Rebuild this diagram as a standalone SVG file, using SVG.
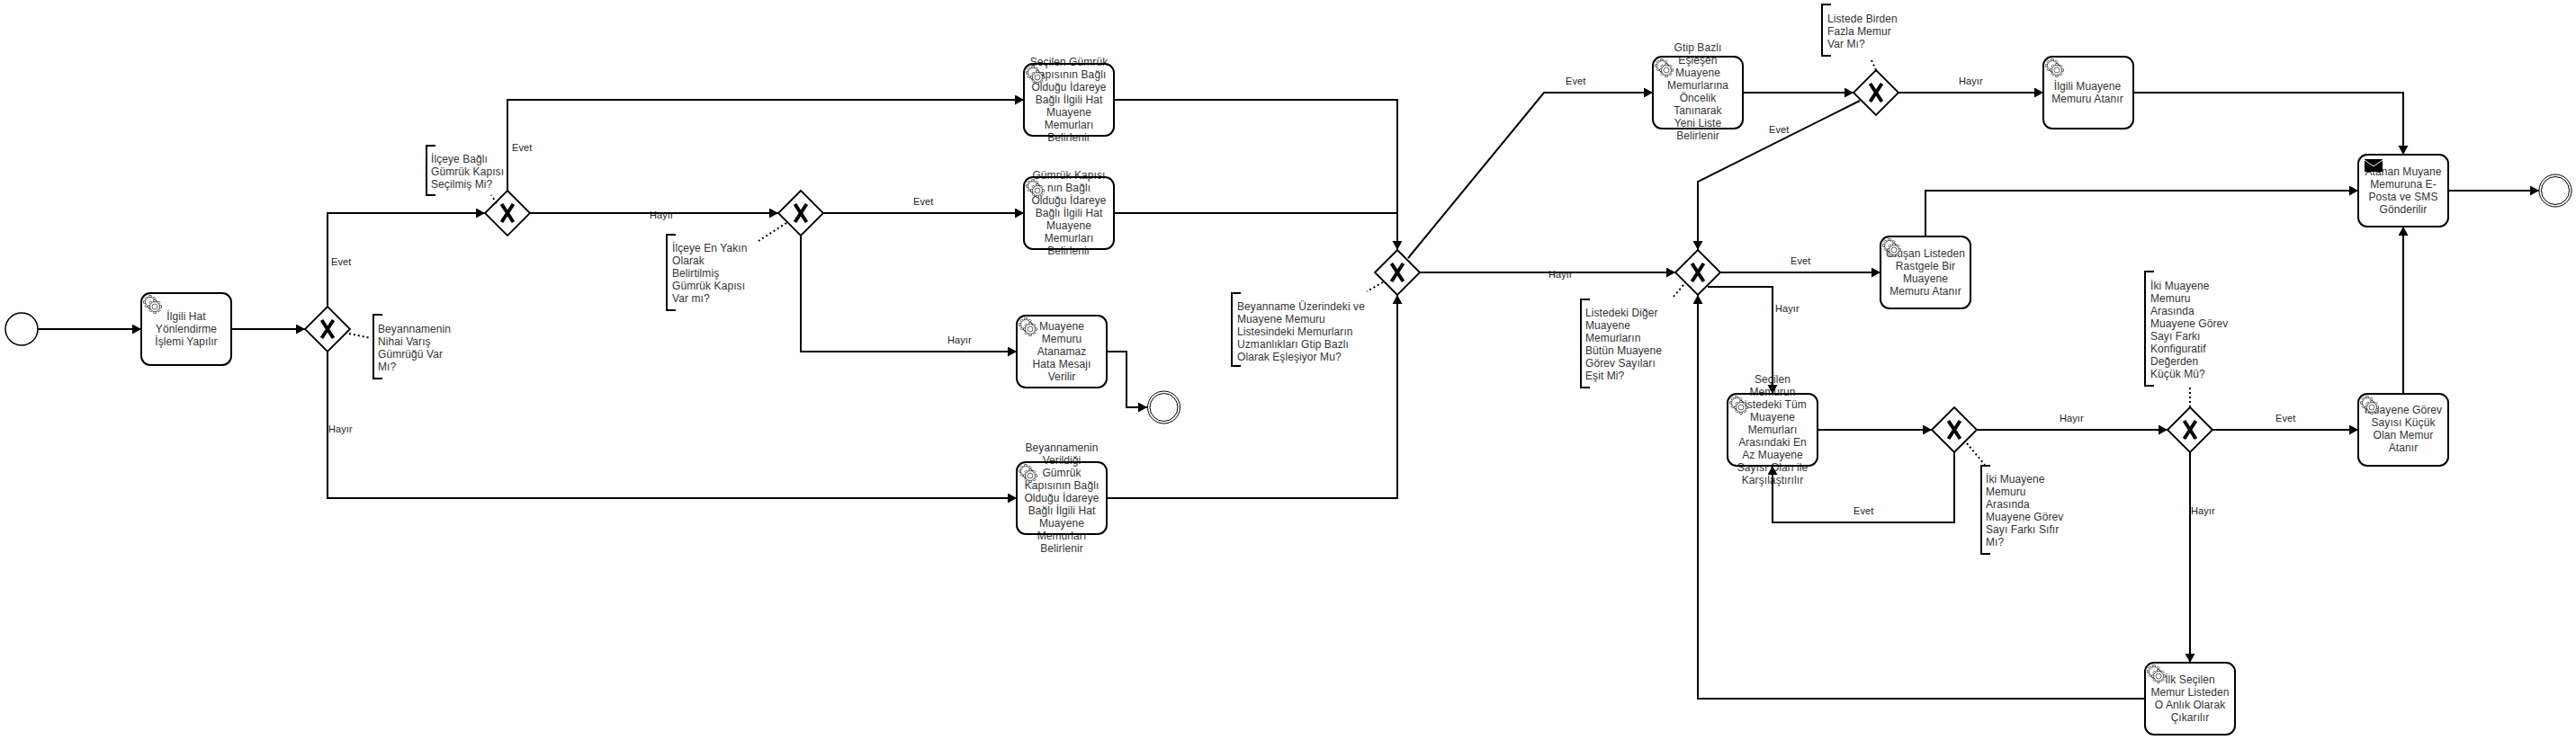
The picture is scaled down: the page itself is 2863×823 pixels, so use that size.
<svg xmlns="http://www.w3.org/2000/svg" xmlns:xlink="http://www.w3.org/1999/xlink" width="2863" height="823" viewBox="0 0 2863 823">
<style>
text{font-family:"Liberation Sans",Arial,sans-serif;font-size:12px;fill:#333;letter-spacing:.08px}
.t{text-anchor:middle}
.l{font-size:11px;fill:#222}
.box{fill:none;stroke:#000;stroke-width:2}
.gw{fill:#fff;stroke:#000;stroke-width:1.8}
.x{fill:none;stroke:#000;stroke-width:4}
.c{fill:none;stroke:#000;stroke-width:2}
.a{marker-end:url(#arrow)}
.d{fill:none;stroke:#000;stroke-width:2;stroke-dasharray:2 3}
.br{fill:none;stroke:#000;stroke-width:2}
.ev{fill:#fff;stroke:#000;stroke-width:1.5}
.ee{fill:#fff;stroke:#000;stroke-width:1}
.g{fill:#fff;stroke:#000;stroke-width:.6}
</style>
<defs>
<marker id="arrow" markerUnits="userSpaceOnUse" markerWidth="11" markerHeight="12" refX="10" refY="5.5" orient="auto"><path d="M0,0L10,5.5L0,11z" fill="#000"/></marker>
<g id="gear1">
<rect class="g" x="-7.3" y="-1.2" width="14.6" height="2.4"/>
<rect class="g" x="-7.3" y="-1.2" width="14.6" height="2.4" transform="rotate(45)"/>
<rect class="g" x="-7.3" y="-1.2" width="14.6" height="2.4" transform="rotate(90)"/>
<rect class="g" x="-7.3" y="-1.2" width="14.6" height="2.4" transform="rotate(135)"/>
<circle class="g" r="5.5"/>
</g>
<g id="gear"><use xlink:href="#gear1" href="#gear1" x="10" y="10"/><use xlink:href="#gear1" href="#gear1" x="15" y="15"/><circle class="g" cx="15" cy="15" r="3"/></g>
<g id="gx"><path class="gw" d="M0,-25L25,0L0,25L-25,0z"/><path class="x" d="M-6.5,-10L6.5,10M6.5,-10L-6.5,10"/></g>
</defs>
<g id="start"><circle class="ev" cx="24" cy="366" r="18"/></g>
<g id="task1"><text class="t"><tspan x="207" y="356">İlgili Hat</tspan><tspan x="207" y="370">Yönlendirme</tspan><tspan x="207" y="384">İşlemi Yapılır</tspan></text><rect class="box" x="157" y="326" width="100" height="80" rx="10"/><use xlink:href="#gear" href="#gear" x="157" y="326"/></g>
<g id="gw1"><use xlink:href="#gx" href="#gx" x="364" y="366"/></g>
<g id="note1"><path class="br" d="M425,350H415V421H425"/><text><tspan x="420" y="370">Beyannamenin</tspan><tspan x="420" y="384">Nihai Varış</tspan><tspan x="420" y="398">Gümrüğü Var</tspan><tspan x="420" y="412">Mı?</tspan></text></g>
<g id="gw2"><use xlink:href="#gx" href="#gx" x="564" y="237"/></g>
<g id="note2"><path class="br" d="M484,162H474V217H484"/><text><tspan x="479" y="181">İlçeye Bağlı</tspan><tspan x="479" y="195">Gümrük Kapısı</tspan><tspan x="479" y="209">Seçilmiş Mi?</tspan></text></g>
<g id="taskA"><text class="t"><tspan x="1188" y="73">Seçilen Gümrük</tspan><tspan x="1188" y="87">Kapısının Bağlı</tspan><tspan x="1188" y="101">Olduğu İdareye</tspan><tspan x="1188" y="115">Bağlı İlgili Hat</tspan><tspan x="1188" y="129">Muayene</tspan><tspan x="1188" y="143">Memurları</tspan><tspan x="1188" y="157">Belirlenir</tspan></text><rect class="box" x="1138" y="71" width="100" height="80" rx="10"/><use xlink:href="#gear" href="#gear" x="1138" y="71"/></g>
<g id="gw3"><use xlink:href="#gx" href="#gx" x="890" y="237"/></g>
<g id="note3"><path class="br" d="M751,261H741V345H751"/><text><tspan x="747" y="280">İlçeye En Yakın</tspan><tspan x="747" y="294">Olarak</tspan><tspan x="747" y="308">Belirtilmiş</tspan><tspan x="747" y="322">Gümrük Kapısı</tspan><tspan x="747" y="336">Var mı?</tspan></text></g>
<g id="taskB"><text class="t"><tspan x="1188" y="199">Gümrük Kapısı</tspan><tspan x="1188" y="213">nın Bağlı</tspan><tspan x="1188" y="227">Olduğu İdareye</tspan><tspan x="1188" y="241">Bağlı İlgili Hat</tspan><tspan x="1188" y="255">Muayene</tspan><tspan x="1188" y="269">Memurları</tspan><tspan x="1188" y="283">Belirlenir</tspan></text><rect class="box" x="1138" y="197" width="100" height="80" rx="10"/><use xlink:href="#gear" href="#gear" x="1138" y="197"/></g>
<g id="taskC"><text class="t"><tspan x="1180" y="367">Muayene</tspan><tspan x="1180" y="381">Memuru</tspan><tspan x="1180" y="395">Atanamaz</tspan><tspan x="1180" y="409">Hata Mesajı</tspan><tspan x="1180" y="423">Verilir</tspan></text><rect class="box" x="1130" y="351" width="100" height="80" rx="10"/><use xlink:href="#gear" href="#gear" x="1130" y="351"/></g>
<g id="end1"><circle class="ee" cx="1293.5" cy="453" r="18"/><circle class="ee" cx="1293.5" cy="453" r="15.5"/></g>
<g id="taskD"><text class="t"><tspan x="1180" y="502">Beyannamenin</tspan><tspan x="1180" y="516">Verildiği</tspan><tspan x="1180" y="530">Gümrük</tspan><tspan x="1180" y="544">Kapısının Bağlı</tspan><tspan x="1180" y="558">Olduğu İdareye</tspan><tspan x="1180" y="572">Bağlı İlgili Hat</tspan><tspan x="1180" y="586">Muayene</tspan><tspan x="1180" y="600">Memurları</tspan><tspan x="1180" y="614">Belirlenir</tspan></text><rect class="box" x="1130" y="514" width="100" height="80" rx="10"/><use xlink:href="#gear" href="#gear" x="1130" y="514"/></g>
<g id="gw4"><use xlink:href="#gx" href="#gx" x="1553" y="303"/></g>
<g id="note4"><path class="br" d="M1379,326H1369V407H1379"/><text><tspan x="1375" y="345">Beyanname Üzerindeki ve</tspan><tspan x="1375" y="359">Muayene Memuru</tspan><tspan x="1375" y="373">Listesindeki Memurların</tspan><tspan x="1375" y="387">Uzmanlıkları Gtip Bazlı</tspan><tspan x="1375" y="401">Olarak Eşleşiyor Mu?</tspan></text></g>
<g id="taskE"><text class="t"><tspan x="1887" y="57">Gtip Bazlı</tspan><tspan x="1887" y="71">Eşleşen</tspan><tspan x="1887" y="85">Muayene</tspan><tspan x="1887" y="99">Memurlarına</tspan><tspan x="1887" y="113">Öncelik</tspan><tspan x="1887" y="127">Tanınarak</tspan><tspan x="1887" y="141">Yeni Liste</tspan><tspan x="1887" y="155">Belirlenir</tspan></text><rect class="box" x="1837" y="63" width="100" height="80" rx="10"/><use xlink:href="#gear" href="#gear" x="1837" y="63"/></g>
<g id="gw5"><use xlink:href="#gx" href="#gx" x="2085" y="103"/></g>
<g id="note5"><path class="br" d="M2035,5H2025V62H2035"/><text><tspan x="2031" y="25">Listede Birden</tspan><tspan x="2031" y="39">Fazla Memur</tspan><tspan x="2031" y="53">Var Mı?</tspan></text></g>
<g id="taskG"><text class="t"><tspan x="2320" y="100">İlgili Muayene</tspan><tspan x="2320" y="114">Memuru Atanır</tspan></text><rect class="box" x="2271" y="63" width="100" height="80" rx="10"/><use xlink:href="#gear" href="#gear" x="2271" y="63"/></g>
<g id="gw6"><use xlink:href="#gx" href="#gx" x="1887" y="303"/></g>
<g id="note6"><path class="br" d="M1767,333H1757V431H1767"/><text><tspan x="1762" y="352">Listedeki Diğer</tspan><tspan x="1762" y="366">Muayene</tspan><tspan x="1762" y="380">Memurların</tspan><tspan x="1762" y="394">Bütün Muayene</tspan><tspan x="1762" y="408">Görev Sayıları</tspan><tspan x="1762" y="422">Eşit Mi?</tspan></text></g>
<g id="taskF"><text class="t"><tspan x="2140" y="286">Oluşan Listeden</tspan><tspan x="2140" y="300">Rastgele Bir</tspan><tspan x="2140" y="314">Muayene</tspan><tspan x="2140" y="328">Memuru Atanır</tspan></text><rect class="box" x="2090" y="263" width="100" height="80" rx="10"/><use xlink:href="#gear" href="#gear" x="2090" y="263"/></g>
<g id="taskH"><text class="t"><tspan x="2671" y="195">Atanan Muyane</tspan><tspan x="2671" y="209">Memuruna E-</tspan><tspan x="2671" y="223">Posta ve SMS</tspan><tspan x="2671" y="237">Gönderilir</tspan></text><rect class="box" x="2621" y="172" width="100" height="80" rx="10"/><rect x="2628" y="177" width="20" height="14" fill="#000"/><path d="M2628,178L2638,185L2648,178" fill="none" stroke="#fff"/></g>
<g id="end2"><circle class="ee" cx="2840" cy="212" r="18"/><circle class="ee" cx="2840" cy="212" r="15.5"/></g>
<g id="taskJ"><text class="t"><tspan x="1970" y="426">Seçilen</tspan><tspan x="1970" y="440">Memurun</tspan><tspan x="1970" y="454">Listedeki Tüm</tspan><tspan x="1970" y="468">Muayene</tspan><tspan x="1970" y="482">Memurları</tspan><tspan x="1970" y="496">Arasındaki En</tspan><tspan x="1970" y="510">Az Muayene</tspan><tspan x="1970" y="524">Sayısı Olan ile</tspan><tspan x="1970" y="538">Karşılaştırılır</tspan></text><rect class="box" x="1920" y="438" width="100" height="80" rx="10"/><use xlink:href="#gear" href="#gear" x="1920" y="438"/></g>
<g id="gw7"><use xlink:href="#gx" href="#gx" x="2172" y="478"/></g>
<g id="note7"><path class="br" d="M2212,518H2202V616H2212"/><text><tspan x="2207" y="537">İki Muayene</tspan><tspan x="2207" y="551">Memuru</tspan><tspan x="2207" y="565">Arasında</tspan><tspan x="2207" y="579">Muayene Görev</tspan><tspan x="2207" y="593">Sayı Farkı Sıfır</tspan><tspan x="2207" y="607">Mı?</tspan></text></g>
<g id="gw8"><use xlink:href="#gx" href="#gx" x="2434" y="478"/></g>
<g id="note8"><path class="br" d="M2394,302H2384V429H2394"/><text><tspan x="2390" y="322">İki Muayene</tspan><tspan x="2390" y="336">Memuru</tspan><tspan x="2390" y="350">Arasında</tspan><tspan x="2390" y="364">Muayene Görev</tspan><tspan x="2390" y="378">Sayı Farkı</tspan><tspan x="2390" y="392">Konfiguratif</tspan><tspan x="2390" y="406">Değerden</tspan><tspan x="2390" y="420">Küçük Mü?</tspan></text></g>
<g id="taskK"><text class="t"><tspan x="2671" y="460">Muayene Görev</tspan><tspan x="2671" y="474">Sayısı Küçük</tspan><tspan x="2671" y="488">Olan Memur</tspan><tspan x="2671" y="502">Atanır</tspan></text><rect class="box" x="2621" y="438" width="100" height="80" rx="10"/><use xlink:href="#gear" href="#gear" x="2621" y="438"/></g>
<g id="taskL"><text class="t"><tspan x="2434" y="760">İlk Seçilen</tspan><tspan x="2434" y="774">Memur Listeden</tspan><tspan x="2434" y="788">O Anlık Olarak</tspan><tspan x="2434" y="802">Çıkarılır</tspan></text><rect class="box" x="2384" y="737" width="100" height="80" rx="10"/><use xlink:href="#gear" href="#gear" x="2384" y="737"/></g>
<g id="labels">
<text class="l" x="368" y="295">Evet</text>
<text class="l" x="365" y="481">Hayır</text>
<text class="l" x="569" y="168">Evet</text>
<text class="l" x="722" y="243">Hayır</text>
<text class="l" x="1015" y="228">Evet</text>
<text class="l" x="1053" y="382">Hayır</text>
<text class="l" x="1740" y="94">Evet</text>
<text class="l" x="1721" y="309">Hayır</text>
<text class="l" x="1966" y="148">Evet</text>
<text class="l" x="1990" y="294">Evet</text>
<text class="l" x="1973" y="347">Hayır</text>
<text class="l" x="2177" y="94">Hayır</text>
<text class="l" x="2060" y="572">Evet</text>
<text class="l" x="2289" y="469">Hayır</text>
<text class="l" x="2529" y="469">Evet</text>
<text class="l" x="2435" y="572">Hayır</text>
</g>
<g id="connectors">
<path class="c a" d="M42,366H157"/>
<path class="c a" d="M257,366H339"/>
<path class="c a" d="M364,341V237H539"/>
<path class="c a" d="M364,391V554H1130"/>
<path class="c a" d="M564,212V111H1138"/>
<path class="c a" d="M589,237H865"/>
<path class="c a" d="M915,237H1138"/>
<path class="c a" d="M890,262V391H1130"/>
<path class="c a" d="M1230,391H1252V453H1275"/>
<path class="c a" d="M1238,111H1553V278"/>
<path class="c" d="M1238,237H1553"/>
<path class="c a" d="M1230,554H1553V328"/>
<path class="c a" d="M1565,287L1716,103H1837"/>
<path class="c a" d="M1578,303H1862"/>
<path class="c a" d="M1937,103H2060"/>
<path class="c a" d="M2067,112L1887,202V278"/>
<path class="c a" d="M2110,103H2271"/>
<path class="c a" d="M2371,103H2671V172"/>
<path class="c a" d="M1912,303H2090"/>
<path class="c a" d="M2140,263V212H2621"/>
<path class="c a" d="M2721,212H2822"/>
<path class="c a" d="M1898,319H1970V438"/>
<path class="c a" d="M2020,478H2147"/>
<path class="c a" d="M2172,503V581H1970V518"/>
<path class="c a" d="M2197,478H2409"/>
<path class="c a" d="M2459,478H2621"/>
<path class="c a" d="M2671,438V252"/>
<path class="c a" d="M2434,503V737"/>
<path class="c a" d="M2384,777H1887V328"/>
<path class="d" d="M388,371L412,376"/>
<path class="d" d="M552,226L546,217"/>
<path class="d" d="M874,248L843,268"/>
<path class="d" d="M1537,314L1519,324"/>
<path class="d" d="M2085,78L2079.5,66"/>
<path class="d" d="M1871,317L1859,331"/>
<path class="d" d="M2186,493L2206,517"/>
<path class="d" d="M2434,453V430"/>
</g>
</svg>
